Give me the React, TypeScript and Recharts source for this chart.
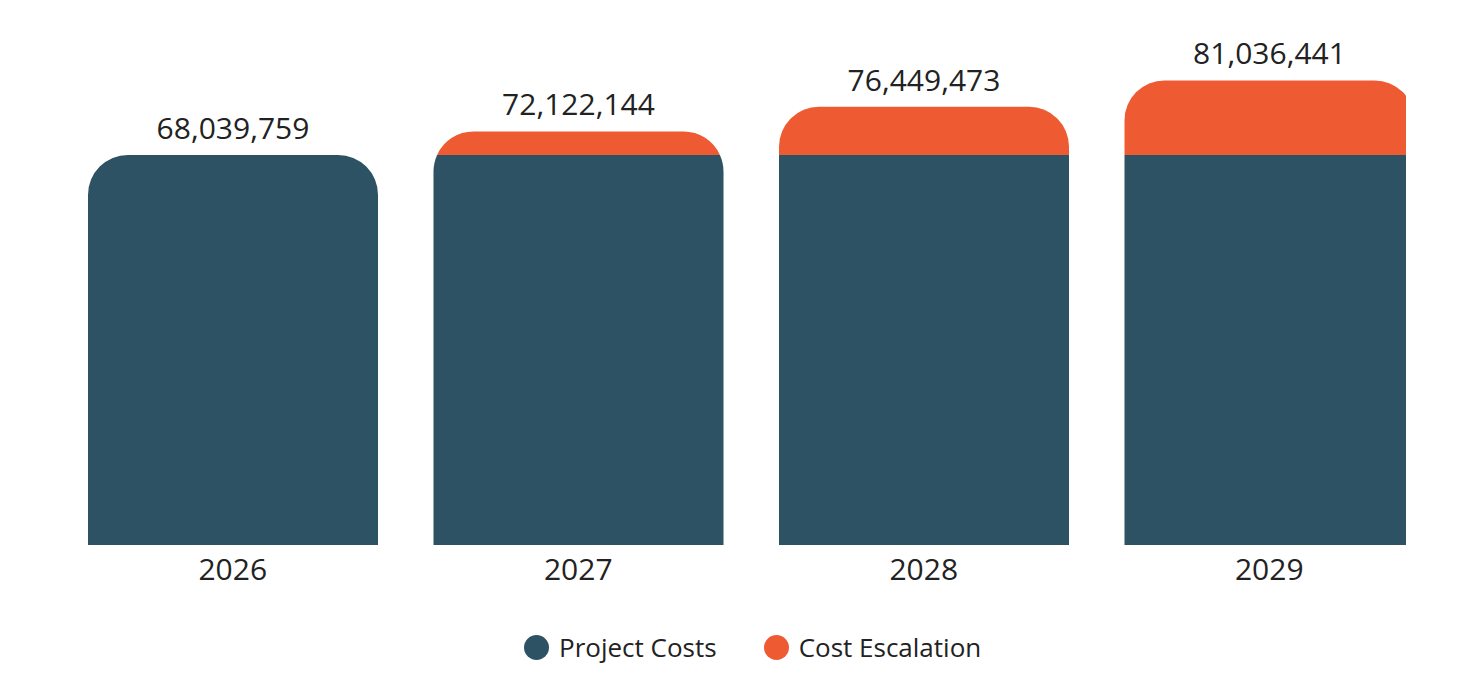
import React from 'react';
import { BarChart, Bar, XAxis, YAxis, LabelList, Legend } from 'recharts';

const years = ['2026', '2027', '2028', '2029'];
const projectCosts = [68039759, 68039759, 68039759, 68039759];
const costEscalation = [0, 4082385, 8409714, 12996682];
const totals = [68039759, 72122144, 76449473, 81036441];

const seriesNames = ['Project Costs', 'Cost Escalation'];
const BLUE = '#2d5263';
const ORANGE = '#ee5b32';
const R = 40;
const FONT = '"Open Sans", sans-serif';

const data = years.map((y, i) => ({
  year: y,
  project: projectCosts[i],
  escalation: costEscalation[i],
  total: totals[i],
}));

function topPath(x: number, yTop: number, w: number, h: number, r: number) {
  if (h >= r) {
    return `M${x},${yTop + h} L${x},${yTop + r} A${r},${r} 0 0 1 ${x + r},${yTop} L${x + w - r},${yTop} A${r},${r} 0 0 1 ${x + w},${yTop + r} L${x + w},${yTop + h} Z`;
  }
  const sx = Math.sqrt(r * r - (r - h) * (r - h));
  return `M${x + r - sx},${yTop + h} A${r},${r} 0 0 1 ${x + r},${yTop} L${x + w - r},${yTop} A${r},${r} 0 0 1 ${x + w - r + sx},${yTop + h} Z`;
}

const BlueShape = (props: any) => {
  const { x, y, width: w, height: h, payload } = props;
  if (!h || h <= 0) return null;
  const oh = (h * payload.escalation) / payload.project;
  let d: string;
  if (oh <= 0.001) {
    d = topPath(x, y, w, h, R);
  } else if (oh >= R) {
    d = `M${x},${y + h} L${x},${y} L${x + w},${y} L${x + w},${y + h} Z`;
  } else {
    const yT = y - oh;
    const dy = R - oh;
    const sx = Math.sqrt(R * R - dy * dy);
    d = `M${x},${y + h} L${x},${yT + R} A${R},${R} 0 0 1 ${x + R - sx},${y} L${x + w - R + sx},${y} A${R},${R} 0 0 1 ${x + w},${yT + R} L${x + w},${y + h} Z`;
  }
  return <path d={d} fill={BLUE} />;
};

const OrangeShape = (props: any) => {
  const { x, y, width: w, height: h } = props;
  if (!h || h <= 0.5) return null;
  return <path d={topPath(x, y, w, h, R)} fill={ORANGE} />;
};

const LegendContent = () => (
  <div style={{ display: 'flex', alignItems: 'center', fontFamily: FONT, fontSize: 26, lineHeight: '30px', color: '#222' }}>
    {[BLUE, ORANGE].map((c, i) => (
      <div key={i} style={{ display: 'flex', alignItems: 'center', marginRight: i === 0 ? 47 : 0 }}>
        <span style={{ width: 25, height: 25, borderRadius: '50%', background: c, display: 'inline-block', marginRight: 10 }} />
        <span>{seriesNames[i]}</span>
      </div>
    ))}
  </div>
);

export default function App() {
  return (
    <div style={{ margin: -8, width: 1480, height: 680, background: '#f7f7f7', position: 'relative', overflow: 'hidden' }}>
      <div style={{ position: 'absolute', left: 7, top: 7, width: 1473, height: 673, background: '#ffffff' }} />
      <div style={{ position: 'absolute', left: 0, top: 0, width: 1406, height: 680, overflow: 'hidden' }}>
        <BarChart width={1480} height={680} data={data} margin={{ top: 29, right: 38, left: 60, bottom: 75 }}>
          <XAxis
            dataKey="year"
            axisLine={false}
            tickLine={false}
            tickSize={6}
            tickMargin={8}
            tick={{ fontFamily: FONT, fontSize: 30, fill: '#222' }}
            interval={0}
          />
          <YAxis hide domain={[0, 90000000]} />
          <Legend
            content={<LegendContent />}
            wrapperStyle={{ position: 'absolute', left: 524, top: 632, width: 520, height: 30 }}
          />
          <Bar dataKey="project" stackId="a" fill={BLUE} barSize={290} shape={<BlueShape />} isAnimationActive={false} />
          <Bar dataKey="escalation" stackId="a" fill={ORANGE} barSize={290} shape={<OrangeShape />} isAnimationActive={false}>
            <LabelList
              dataKey="total"
              position="top"
              offset={16}
              formatter={(v: any) => Number(v).toLocaleString('en-US')}
              style={{ fontFamily: FONT, fontSize: 30, fill: '#222' }}
            />
          </Bar>
        </BarChart>
      </div>
    </div>
  );
}
